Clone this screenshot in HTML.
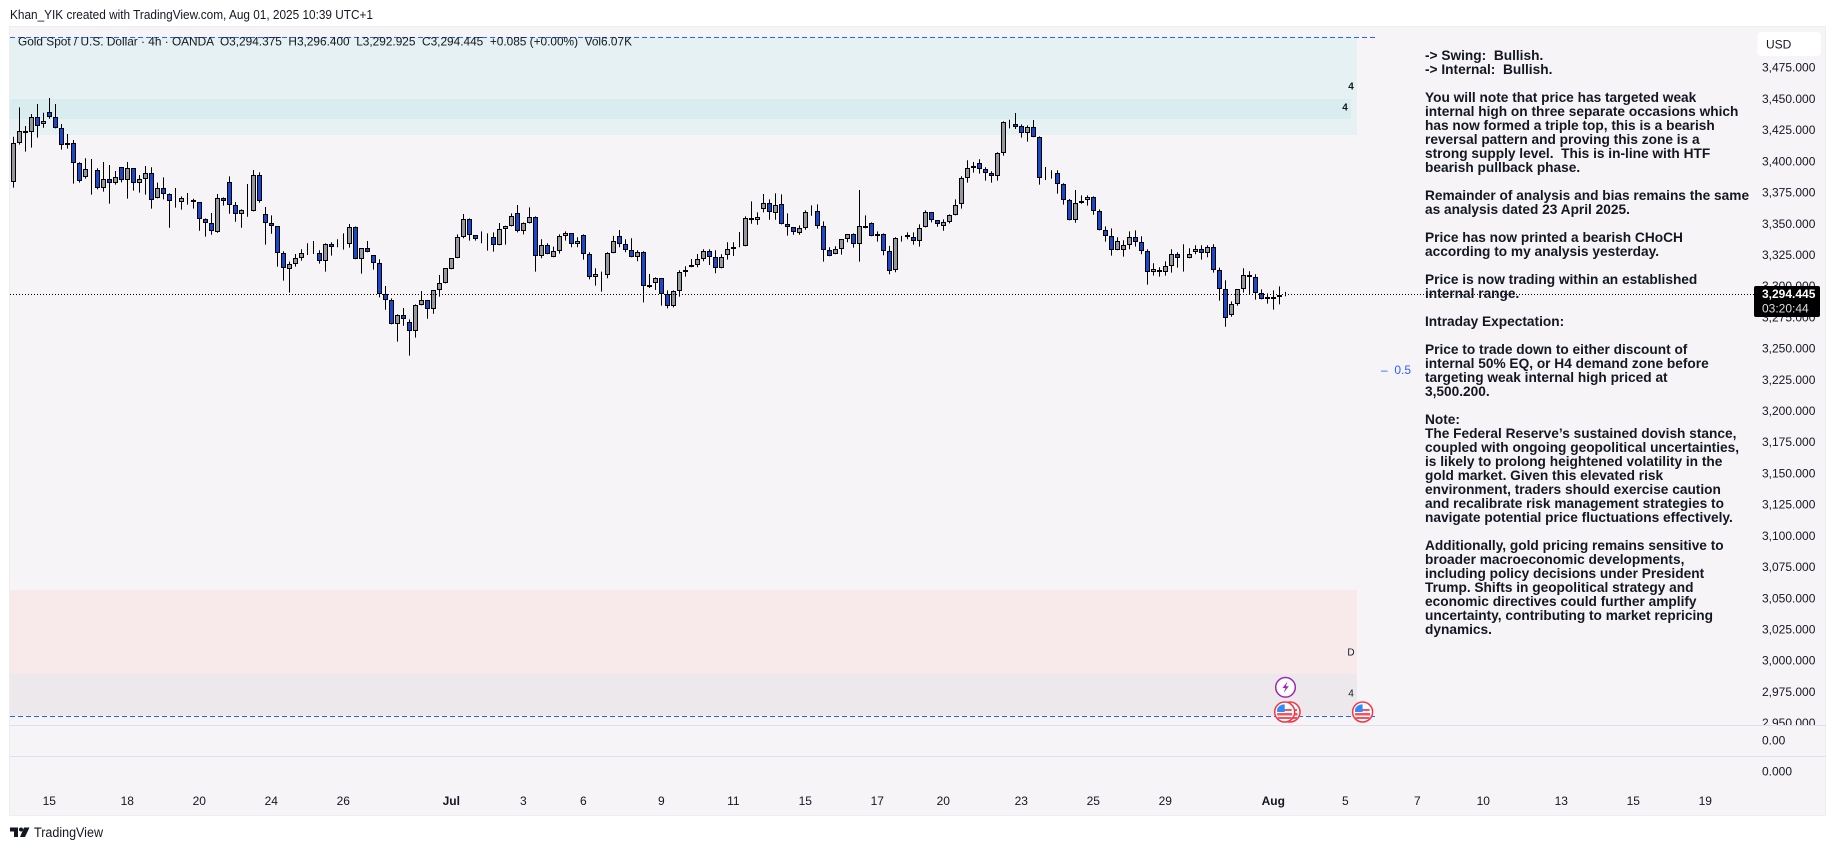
<!DOCTYPE html>
<html lang="en">
<head>
<meta charset="utf-8">
<title>XAUUSD 4h chart</title>
<style>
html,body{margin:0;padding:0;background:#fff;width:1835px;height:850px;overflow:hidden}
#stage{position:relative;width:1835px;height:850px}
svg{position:absolute;left:0;top:0}
svg text{font-family:"Liberation Sans",sans-serif;fill:#131722}
#notes{position:absolute;left:1425px;top:49px;width:330px;font:bold 13.7px/14px "Liberation Sans",sans-serif;color:#131722;white-space:pre;margin:0}
</style>
</head>
<body>
<div id="stage">
<svg id="chart" width="1835" height="850" viewBox="0 0 1835 850">
  <defs>
    <clipPath id="mainClip"><rect x="1750" y="26" width="76" height="699"/></clipPath>
    <symbol id="usFlag" viewBox="-11 -11 22 22">
      <circle r="10" fill="#fff" stroke="#f23645" stroke-width="1.5"/>
      <rect x="-7.5" y="1" width="15" height="2.5" fill="#f7525f"/>
      <rect x="-5" y="-3" width="12" height="2" fill="#f7525f"/>
      <rect x="-7" y="5" width="14" height="2" fill="#f7525f"/>
      <path d="M-7.6 0 V-3 A8 8 0 0 1 -1 -7.6 H0 V0 Z" fill="#2f8cff"/>
    </symbol>
  </defs>

  <text x="10" y="15" font-size="12.5" dominant-baseline="central" textLength="363" lengthAdjust="spacingAndGlyphs">Khan_YIK created with TradingView.com, Aug 01, 2025 10:39 UTC+1</text>

  <rect x="9.5" y="26.5" width="1816" height="789" fill="#f6f4f6" stroke="#eeeef1"/>

  <rect x="10" y="37" width="1347" height="98" fill="#e5f1f3"/>
  <rect x="10" y="99" width="1341" height="20" fill="#d9ecf0"/>
  <rect x="10" y="590" width="1347" height="84" fill="#f8eaea"/>
  <rect x="10" y="674" width="1347" height="42" fill="#ece8ec"/>

  <line x1="10" x2="1375" y1="37.5" y2="37.5" stroke="#2962ff" stroke-width="1" stroke-dasharray="5 3"/>
  <line x1="10" x2="1375" y1="716.5" y2="716.5" stroke="#2962ff" stroke-width="1" stroke-dasharray="5 3"/>

  <line x1="10" x2="1826" y1="725.5" y2="725.5" stroke="#e0e0ea"/>
  <line x1="10" x2="1826" y1="756.5" y2="756.5" stroke="#e0e0ea"/>

  <text x="1351" y="87" font-size="10" font-weight="bold" fill="#444" text-anchor="middle" dominant-baseline="central">4</text>
  <text x="1345" y="108" font-size="10" font-weight="bold" fill="#444" text-anchor="middle" dominant-baseline="central">4</text>
  <text x="1351" y="653" font-size="10" text-anchor="middle" dominant-baseline="central">D</text>
  <text x="1351" y="694" font-size="10" fill="#444" text-anchor="middle" dominant-baseline="central">4</text>

  <g id="candles"></g>
  <line id="priceLine" x1="10" x2="1754" stroke="#000" stroke-width="1" stroke-dasharray="1 2"/>

  <text x="1381" y="370" font-size="12" style="fill:#2962ff" dominant-baseline="central" xml:space="preserve">–  0.5</text>

  <text x="18" y="41.7" font-size="12" dominant-baseline="central" textLength="614" lengthAdjust="spacingAndGlyphs" xml:space="preserve">Gold Spot / U.S. Dollar · 4h · OANDA  O3,294.375  H3,296.400  L3,292.925  C3,294.445  +0.085 (+0.00%)  Vol6.07K</text>

  <g id="yAxis" clip-path="url(#mainClip)"></g>
  <g id="xAxis"></g>

  <text x="1762" y="740.7" font-size="12" dominant-baseline="central">0.00</text>
  <text x="1762" y="771.7" font-size="12" dominant-baseline="central">0.000</text>

  <rect x="1757.5" y="32" width="63.5" height="24" rx="4" fill="#fff"/>
  <text x="1766" y="44.7" font-size="12" dominant-baseline="central">USD</text>

  <rect x="1754" y="286" width="66" height="31" rx="2" fill="#000"/>
  <text x="1762" y="294" font-size="12" font-weight="bold" style="fill:#fff" dominant-baseline="central">3,294.445</text>
  <text x="1762" y="308.7" font-size="12" style="fill:#dddddd" dominant-baseline="central">03:20:44</text>

  <g>
    <circle cx="1285.5" cy="687.3" r="9.8" fill="#fff" stroke="#9c27b0" stroke-width="1.5"/>
    <path d="M1287.5 681.5 L1282.5 688 H1285.5 L1283.5 693 L1288.8 686.2 H1285.8 Z" fill="#9c27b0"/>
  </g>
  <use href="#usFlag" x="1279" y="701" width="22" height="22"/>
  <use href="#usFlag" x="1273.7" y="701" width="22" height="22"/>
  <use href="#usFlag" x="1351.6" y="701" width="22" height="22"/>

  <g>
    <path d="M10 827.5 H18 V837 H14 V831.5 H10 Z" fill="#131722"/>
    <circle cx="21" cy="829.5" r="2" fill="#131722"/>
    <path d="M24 827.5 H29.5 L25 837 H20 Z" fill="#131722"/>
    <text x="34" y="832.7" font-size="13.5" dominant-baseline="central" textLength="69" lengthAdjust="spacingAndGlyphs">TradingView</text>
  </g>
</svg>
<pre id="notes">-&gt; Swing:  Bullish.
-&gt; Internal:  Bullish.

You will note that price has targeted weak
internal high on three separate occasions which
has now formed a triple top, this is a bearish
reversal pattern and proving this zone is a
strong supply level.  This is in-line with HTF
bearish pullback phase.

Remainder of analysis and bias remains the same
as analysis dated 23 April 2025.

Price has now printed a bearish CHoCH
according to my analysis yesterday.

Price is now trading within an established
internal range.

Intraday Expectation:

Price to trade down to either discount of
internal 50% EQ, or H4 demand zone before
targeting weak internal high priced at
3,500.200.

Note:
The Federal Reserve’s sustained dovish stance,
coupled with ongoing geopolitical uncertainties,
is likely to prolong heightened volatility in the
gold market. Given this elevated risk
environment, traders should exercise caution
and recalibrate risk management strategies to
navigate potential price fluctuations effectively.

Additionally, gold pricing remains sensitive to
broader macroeconomic developments,
including policy decisions under President
Trump. Shifts in geopolitical strategy and
economic directives could further amplify
uncertainty, contributing to market repricing
dynamics.</pre>
</div>
<script>
const opens = [
3384.1,3415.4,3425,3424.2,3436.2,3430.6,3440.2,3436.2,3427.4,3413.8,
3415.4,3399.4,3388.1,3394.6,3393.8,3379.3,3386.5,3383.3,3396.2,3385.7,
3395.4,3383.3,3386.5,3391.4,3371.3,3379.3,3374.5,3368.9,3368.1,3371.3,
3369.7,3368.1,3354.5,3351.3,3344.6,3371.3,3384.1,3365.7,3358.5,3361.7,
3360.9,3389.7,3358.5,3351.3,3348.9,3327.3,3314.5,3318.5,3323.3,3327.3,
3327.3,3327.3,3320.9,3334.5,3334.5,3334.5,3334.5,3348.1,3322.5,3331.3,
3325.7,3319.3,3294.4,3289.6,3270.4,3277.6,3272,3264.8,3285.6,3289.6,
3282.4,3297.6,3303.2,3314.5,3323.3,3340.1,3354.5,3341.7,3340.1,3340.1,
3340.1,3333.7,3346.5,3348.9,3359.3,3344.9,3351.3,3356.1,3324.9,3333.7,
3324.1,3328.9,3340.9,3343.3,3334.5,3341.7,3326.5,3308,3310.7,3309.7,
3327.3,3340.9,3334.5,3329.7,3324.1,3328.1,3301.6,3303.2,3307.2,3294.4,
3284.8,3296.8,3312.1,3316.1,3317.7,3322.5,3328.9,3324.1,3315.3,3325.7,
3330.5,3332.9,3332.9,3355.3,3353.7,3362.5,3367.3,3359.3,3366.5,3350.5,
3348.1,3343.3,3347.3,3360.9,3360.9,3348.9,3329.7,3326.5,3330.5,3338.5,
3342.5,3334.5,3348.9,3351.3,3340.9,3342.5,3328.9,3313.7,3339.6,3341.7,
3340.1,3336.9,3348.1,3360.1,3353.7,3348.9,3352.1,3357.7,3366.5,3387.4,
3395.4,3399.4,3394.6,3391.4,3389,3407.4,3432.2,3430.6,3429,3423.4,
3428.2,3420.2,3387.4,3391.4,3391.4,3382.6,3369.7,3353.7,3367.3,3369.7,
3372.1,3360.9,3345.7,3340.9,3329.7,3329.7,3333.7,3340.1,3336.1,3328.9,
3312.1,3313.7,3312.1,3316.9,3326.5,3323.3,3323.3,3328.1,3330.5,3327.3,
3332.1,3313.7,3298.4,3277.6,3286.4,3298.4,3309.7,3308.1,3295.2,3292,3290.4,3292,3294.375];
const highs = [
3420.7,3444.2,3429.3,3438.9,3446.9,3439.9,3451.7,3446.9,3430.9,3422.9,
3418,3400.2,3403.4,3402.8,3395.4,3400.4,3398,3393.2,3396.2,3400.4,
3395.4,3390,3397.2,3396.2,3383.9,3388.1,3375.3,3379.6,3372.9,3375.6,
3371,3368.1,3355.3,3359.6,3374.8,3372.1,3388.9,3368.4,3362.5,3382.8,
3394,3392.1,3364.4,3357.7,3348.9,3328.9,3320.6,3326.7,3330.5,3335.3,
3337.1,3329.7,3335.3,3336.1,3338.5,3343.3,3350.8,3348.9,3331.3,3337.1,
3325.7,3322.5,3301.1,3291.2,3278.4,3283.5,3274.4,3286.4,3297.1,3289.6,
3297.6,3309.9,3315.3,3323.3,3342.5,3358.8,3355.3,3341.7,3344.9,3343.3,
3344.1,3351.6,3349.4,3359.3,3366,3352.1,3364.1,3356.9,3338.5,3335.3,
3332.6,3342.5,3344.9,3343.3,3340.1,3342.5,3328.1,3315.3,3312.6,3328.1,
3341.2,3346,3338.5,3339.3,3329.7,3328.9,3310.7,3308,3307.2,3297.6,
3297.6,3313.7,3316.9,3322.7,3326.7,3330.5,3330.5,3329.7,3326.5,3336.1,
3336.1,3344.4,3356.9,3368.9,3360.1,3374.8,3370.5,3375.3,3374.5,3359.3,
3348.1,3349.7,3361.7,3365.7,3366.5,3352.9,3332.1,3332.9,3338.5,3342.5,
3343.3,3378,3357.7,3352.1,3344.9,3343.3,3333.2,3340.1,3341.2,3344.1,
3344.1,3350.5,3361.7,3360.1,3353.7,3354.5,3358.5,3370.5,3389,3401.8,
3400.4,3402.6,3396.2,3393,3408.2,3433,3434.3,3439.7,3430.6,3429.8,
3434.1,3421,3396.4,3393.8,3393.8,3383.4,3370.8,3378,3373.7,3373.7,
3372.9,3362.5,3348.9,3347.3,3340.1,3337.7,3344.9,3345.7,3340.9,3330.5,
3319.3,3316.1,3320.9,3330.5,3328.1,3334.5,3331.3,3333.7,3333.7,3333.7,
3334.5,3315.8,3305.7,3288.8,3298.4,3315.3,3312.9,3310.5,3298.4,3295.2,3297.6,3300.8,3296.4];
const lows = [
3379.9,3414.3,3408.7,3411.9,3419.9,3427.9,3435.1,3427.4,3410.3,3411.1,
3383.1,3383.9,3387.1,3374.3,3378.5,3376.7,3367.1,3382.3,3384.1,3371.1,
3377.5,3375.9,3374.3,3363.1,3371.3,3370.5,3347.8,3363.9,3362.3,3366.3,
3363.1,3345.4,3340.6,3342.2,3343.8,3365.5,3359,3352.6,3347.8,3356.6,
3360.9,3367.8,3334.2,3343,3316.6,3305.4,3295.8,3316.6,3321.4,3325.9,
3326.7,3319,3312.6,3325.4,3332.1,3330.2,3331.8,3322.5,3311,3328.1,
3314.2,3292,3282.1,3270.4,3256.5,3269.3,3245.3,3259.7,3285.6,3274.9,
3278.9,3292.6,3303.2,3314.5,3323.3,3339.3,3337.4,3337.4,3335.3,3329.4,
3328.6,3333.7,3334.2,3348.9,3344.1,3342.5,3351.3,3312.6,3323.3,3326.5,
3324.1,3327,3337.4,3332.1,3332.1,3322.2,3306.4,3301.4,3296.6,3307.3,
3327.3,3332.1,3328.1,3324.1,3320.9,3288,3299.5,3297.9,3285.4,3283.2,
3284,3292.6,3308.6,3316.1,3316.1,3320.9,3317.9,3311.3,3315.3,3322.2,
3325.1,3332.1,3332.9,3351,3350.2,3360.1,3354.2,3354.2,3350.5,3341.4,
3342.2,3342.2,3346.2,3357.4,3347.1,3320.6,3324.9,3326.5,3326.2,3336.1,
3331.8,3320.6,3347.3,3340.9,3336.6,3325.7,3310.5,3312.1,3336.6,3338.5,
3334.2,3332.6,3348.1,3352.1,3348.6,3345.4,3351.3,3357.7,3363.1,3383.9,
3391.9,3391.1,3385.5,3383.9,3385.5,3405.5,3427.4,3426.9,3419.9,3416.7,
3420.2,3382.3,3386,3387.1,3375.1,3366.3,3353.7,3351.8,3367,3365.5,
3358.2,3345.7,3336.6,3325.4,3329.7,3324.6,3330.5,3332.6,3326.5,3302.2,
3309.4,3308.6,3309.4,3311.8,3315.8,3312.6,3323.3,3326.5,3322.2,3324.1,
3311.8,3289.4,3268.5,3276.5,3285.4,3295.8,3294.2,3290.2,3290.4,3287,3282.2,3286.4,3292.925];
const closes = [
3415.4,3425,3423.9,3436.2,3429.5,3433,3436.2,3427.4,3413.8,3415.4,
3399.4,3385,3394.6,3394.3,3379.3,3386.5,3383.3,3388.1,3385.7,3395.4,
3383.3,3386.5,3391.4,3369.7,3379.3,3374.5,3368.9,3368.7,3371.3,3371,
3368.1,3354.5,3351.3,3344.9,3371.3,3368.9,3365.7,3358.5,3361.7,3360.9,
3389.7,3368.9,3351.3,3348.9,3327.3,3315.3,3318.5,3323.3,3327.3,3327,
3327,3320.9,3334.5,3332.1,3334.2,3334.2,3348.1,3322.5,3331.3,3328.1,
3319.3,3294.4,3289.6,3270.4,3277.6,3274.4,3264.8,3285.6,3289.6,3282.4,
3297.6,3303.2,3315.3,3323.3,3340.1,3354.5,3341.7,3338.5,3339.3,3339.3,
3333.7,3346.5,3348.9,3356.9,3344.9,3351.3,3356.1,3324.9,3333.7,3326.5,
3328.9,3340.9,3343.3,3334.5,3336.9,3326.5,3308,3310.4,3310.4,3327.3,
3336.9,3334.5,3329.7,3324.1,3328.1,3300.8,3300.6,3307.2,3294.4,3284.8,
3296.8,3312.1,3313.7,3317.7,3322.5,3328.9,3324.1,3315.3,3324.1,3330.5,
3332.1,3332.1,3355.3,3353.7,3356.1,3367.3,3360.1,3365.7,3350.5,3348.1,
3344.1,3347.3,3360.1,3360.6,3348.9,3329.7,3324.9,3330.5,3338.5,3342.5,
3334.5,3348.9,3347.3,3340.9,3342.5,3328.9,3312.9,3339.3,3339.3,3340.1,
3336.9,3347.3,3360.1,3353.7,3350.5,3352.1,3357.7,3365.7,3387.4,3395.4,
3397,3394.6,3391.4,3389,3407.4,3432.2,3431.9,3428.7,3423.4,3428.2,
3420.2,3387.4,3387.1,3391.1,3382.6,3369.7,3353.7,3367.3,3368.9,3372.1,
3360.9,3345.7,3340.9,3329.7,3336.9,3333.7,3340.1,3336.1,3328.9,3312.1,
3314.5,3312.1,3316.9,3326.5,3323.3,3323,3326.5,3330.5,3327.3,3332.1,
3313.7,3298.4,3275.2,3286.4,3298.4,3309.7,3308.1,3295.2,3290.4,3290.4,3292,3294.2,3294.445];
const priceTicks = [3475,3450,3425,3400,3375,3350,3325,3300,3275,3250,3225,3200,3175,3150,3125,3100,3075,3050,3025,3000,2975,2950];
const timeTickLabels = ["15","18","20","24","26","Jul","3","6","9","11","15","17","20","23","25","29","Aug","5","7","10","13","15","19"];
const timeTickBars = [6,19,31,43,55,73,85,95,108,120,132,144,155,168,180,192,210,222,234,245,258,270,282];

const NS = "http://www.w3.org/2000/svg";
function xScale(i){ return 13.3 + 6 * i; }
function yScale(p){ return 68.9 + (3475 - p) * 1.2484; }

const candleGroup = document.getElementById("candles");
closes.forEach(function(c, i){
  const o = opens[i];
  const cx = Math.floor(xScale(i)) + 0.5;
  const up = c >= o;
  const g = document.createElementNS(NS, "g");
  
  

  const wick = document.createElementNS(NS, "line");
  wick.setAttribute("x1", cx);
  wick.setAttribute("x2", cx);
  wick.setAttribute("y1", yScale(highs[i]));
  wick.setAttribute("y2", yScale(lows[i]));
  wick.setAttribute("stroke", "#000");
  wick.setAttribute("stroke-width", "1");
  
  
  g.appendChild(wick);

  const top = Math.round(yScale(Math.max(o, c)));
  const bottom = Math.round(yScale(Math.min(o, c)));
  const body = document.createElementNS(NS, "rect");
  body.setAttribute("x", cx - 2);
  body.setAttribute("width", 4);
  body.setAttribute("y", top + 0.5);
  body.setAttribute("height", Math.max(bottom - top - 1, 0));
  body.setAttribute("fill", up ? "#9598a1" : "#1848cc");
  body.setAttribute("stroke", "#000");
  body.setAttribute("stroke-width", "1");
  
  
  g.appendChild(body);
  candleGroup.appendChild(g);
});

const lastY = Math.floor(yScale(closes[closes.length - 1])) + 0.5;
const priceLine = document.getElementById("priceLine");
priceLine.setAttribute("y1", lastY);
priceLine.setAttribute("y2", lastY);

const yAxis = document.getElementById("yAxis");
priceTicks.forEach(function(p){
  const t = document.createElementNS(NS, "text");
  t.setAttribute("x", 1762);
  t.setAttribute("y", yScale(p) - 1.2);
  t.setAttribute("font-size", "12");
  t.setAttribute("dominant-baseline", "central");
  
  
  t.textContent = p.toLocaleString("en-US") + ".000";
  yAxis.appendChild(t);
});

const xAxis = document.getElementById("xAxis");
timeTickLabels.forEach(function(label, i){
  const t = document.createElementNS(NS, "text");
  t.setAttribute("x", xScale(timeTickBars[i]));
  t.setAttribute("y", 801);
  t.setAttribute("font-size", "12");
  t.setAttribute("text-anchor", "middle");
  t.setAttribute("dominant-baseline", "central");
  if (label === "Jul" || label === "Aug") t.setAttribute("font-weight", "bold");
  
  
  t.textContent = label;
  xAxis.appendChild(t);
});
</script>
</body>
</html>
